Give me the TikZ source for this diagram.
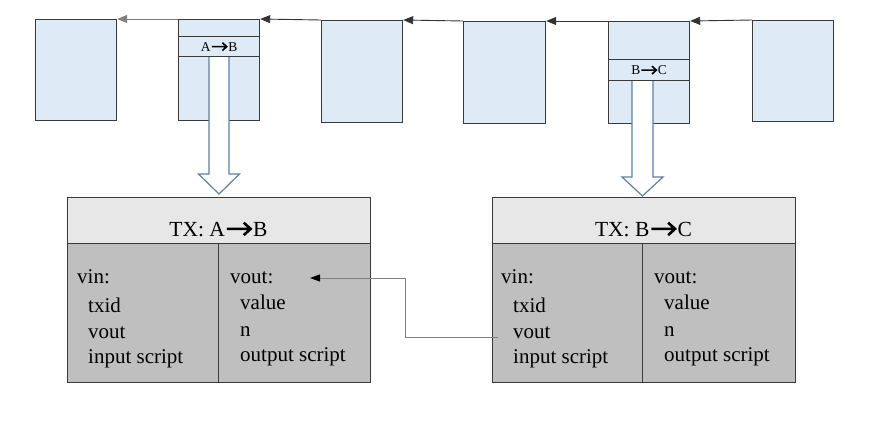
\documentclass[tikz,border=0pt]{standalone}
\usepackage{fontspec}
\setmainfont{Liberation Serif}
\newfontfamily\tnr{Liberation Serif}
\usetikzlibrary{arrows.meta,calc}
\definecolor{blkfill}{HTML}{DEEAF6}
\definecolor{bdr}{HTML}{3A3A3A}
\definecolor{hdrfill}{HTML}{E7E7E7}
\definecolor{bodyfill}{HTML}{BFBFBF}
\definecolor{hollowblue}{HTML}{5A80AA}
\definecolor{conngrey}{HTML}{808080}
\newcommand{\chev}{\hspace{0.03em}\tikz[baseline=0pt]{\draw[line width=0.12em, line cap=butt, line join=miter, black] (0pt,0.33em) -- (1.1em,0.33em) (0.78em,0.62em) -- (1.1em,0.33em) -- (0.78em,0.04em);}\hspace{0.06em}}
\begin{document}
\begin{tikzpicture}[x=1pt,y=-1pt,
  blk/.style={draw=bdr, fill=blkfill, line width=1.2pt, inner sep=0pt, anchor=north west},
  hdr/.style={draw=bdr, fill=hdrfill, line width=1.3pt, inner sep=0pt, anchor=north west},
  body/.style={draw=bdr, fill=bodyfill, line width=1.3pt, inner sep=0pt, anchor=north west},
  link/.style={draw=black!80, line width=0.9pt, -{Triangle[length=10pt,width=8pt]}},
  conn/.style={draw=conngrey, line width=1pt, -{Triangle[length=10pt,width=7pt,color=black]}},
  hollow/.style={draw=hollowblue, fill=white, line width=1.2pt, line join=miter},
  lbl/.style={inner sep=0pt, anchor=base west, font=\tnr\fontsize{21}{25}\selectfont},
  ttl/.style={inner sep=0pt, anchor=base, font=\tnr\fontsize{21.5}{25}\selectfont},
  small/.style={inner sep=0pt, font=\tnr\fontsize{13.5}{16}\selectfont}
]
\useasboundingbox (0,0) rectangle (872,437);

% top blocks
\node[blk, minimum width=81pt, minimum height=101pt] (b1) at (35,19) {};
\node[blk, minimum width=81pt, minimum height=101pt] (b2) at (178,19) {};
\node[blk, minimum width=81pt, minimum height=102pt] (b3) at (321,20) {};
\node[blk, minimum width=82pt, minimum height=102pt] (b4) at (463,21) {};
\node[blk, minimum width=81pt, minimum height=102pt] (b5) at (608,21) {};
\node[blk, minimum width=81pt, minimum height=101pt] (b6) at (752,20) {};

\draw[link] (b6.north west) -- (b5.north east);
\draw[link] (b5.north west) -- (b4.north east);
\draw[link] (b4.north west) -- (b3.north east);
\draw[link] (b3.north west) -- (b2.north east);
\draw[link, draw=conngrey] (b2.north west) -- (b1.north east);

% lower boxes
\node[hdr, minimum width=303pt, minimum height=46pt] (hA) at (67,197) {};
\node[body, minimum width=151pt, minimum height=139pt] (lA) at (67,243) {};
\node[body, minimum width=152pt, minimum height=139pt] (rA) at (218,243) {};
\node[hdr, minimum width=303pt, minimum height=46pt] (hB) at (492,197) {};
\node[body, minimum width=150pt, minimum height=139pt] (lB) at (492,243) {};
\node[body, minimum width=153pt, minimum height=139pt] (rB) at (642,243) {};

% hollow arrows (drawn before bands so the band edge lies on top)
\coordinate (s1) at (219,56);
\coordinate (t1) at ($(hA.north)+(0,-3)$);
\filldraw[hollow] ($(s1)+(-10,0)$) -- ($(t1 -| s1)+(-10,-20)$) -- ($(t1 -| s1)+(-20.5,-20)$) -- (t1 -| s1) -- ($(t1 -| s1)+(20.5,-20)$) -- ($(t1 -| s1)+(10,-20)$) -- ($(s1)+(10,0)$);
\coordinate (s2) at (642.5,80);
\coordinate (t2) at ($(hB.north)+(0,-1)$);
\filldraw[hollow] ($(s2)+(-10.5,0)$) -- ($(t2 -| s2)+(-10.5,-19)$) -- ($(t2 -| s2)+(-20.5,-19)$) -- (t2 -| s2) -- ($(t2 -| s2)+(20.5,-19)$) -- ($(t2 -| s2)+(10.5,-19)$) -- ($(s2)+(10.5,0)$);

% bands with labels
\node[blk, minimum width=81pt, minimum height=20pt] (band1) at (178,36) {};
\node[small] (lb1) at (band1.center) {A\chev B};
\node[blk, minimum width=81pt, minimum height=21pt] (band2) at (608,59) {};
\node[small] (lb2) at (band2.center) {B\chev C};

% titles
\node[ttl] (tA) at (218.5,236) {TX: A\chev B};
\node[ttl] (tB) at (643.5,236) {TX: B\chev C};

% box A text
\node[lbl] (vinA) at (77,283) {vin:};
\node[lbl] (txidA) at (88,312) {txid};
\node[lbl] (voutA) at (88,338) {vout};
\node[lbl] (isA) at (88,363) {input script};
\node[lbl] (voA) at (230,283) {vout:};
\node[lbl] (valA) at (240,309) {value};
\node[lbl] (nA) at (240,336) {n};
\node[lbl] (osA) at (240,361) {output script};

% box B text
\node[lbl] (vinB) at (501,283) {vin:};
\node[lbl] (txidB) at (513,312) {txid};
\node[lbl] (voutB) at (513,338) {vout};
\node[lbl] (isB) at (513,363) {input script};
\node[lbl] (voB) at (654,283) {vout:};
\node[lbl] (valB) at (664,309) {value};
\node[lbl] (nB) at (664,336) {n};
\node[lbl] (osB) at (664,361) {output script};

% connector
\coordinate (pA) at (310,278);
\draw[conn] ([xshift=-15pt,yshift=1pt]voutB.base west) -| ($(pA)+(95,0)$) -- (pA);
\end{tikzpicture}
\end{document}
